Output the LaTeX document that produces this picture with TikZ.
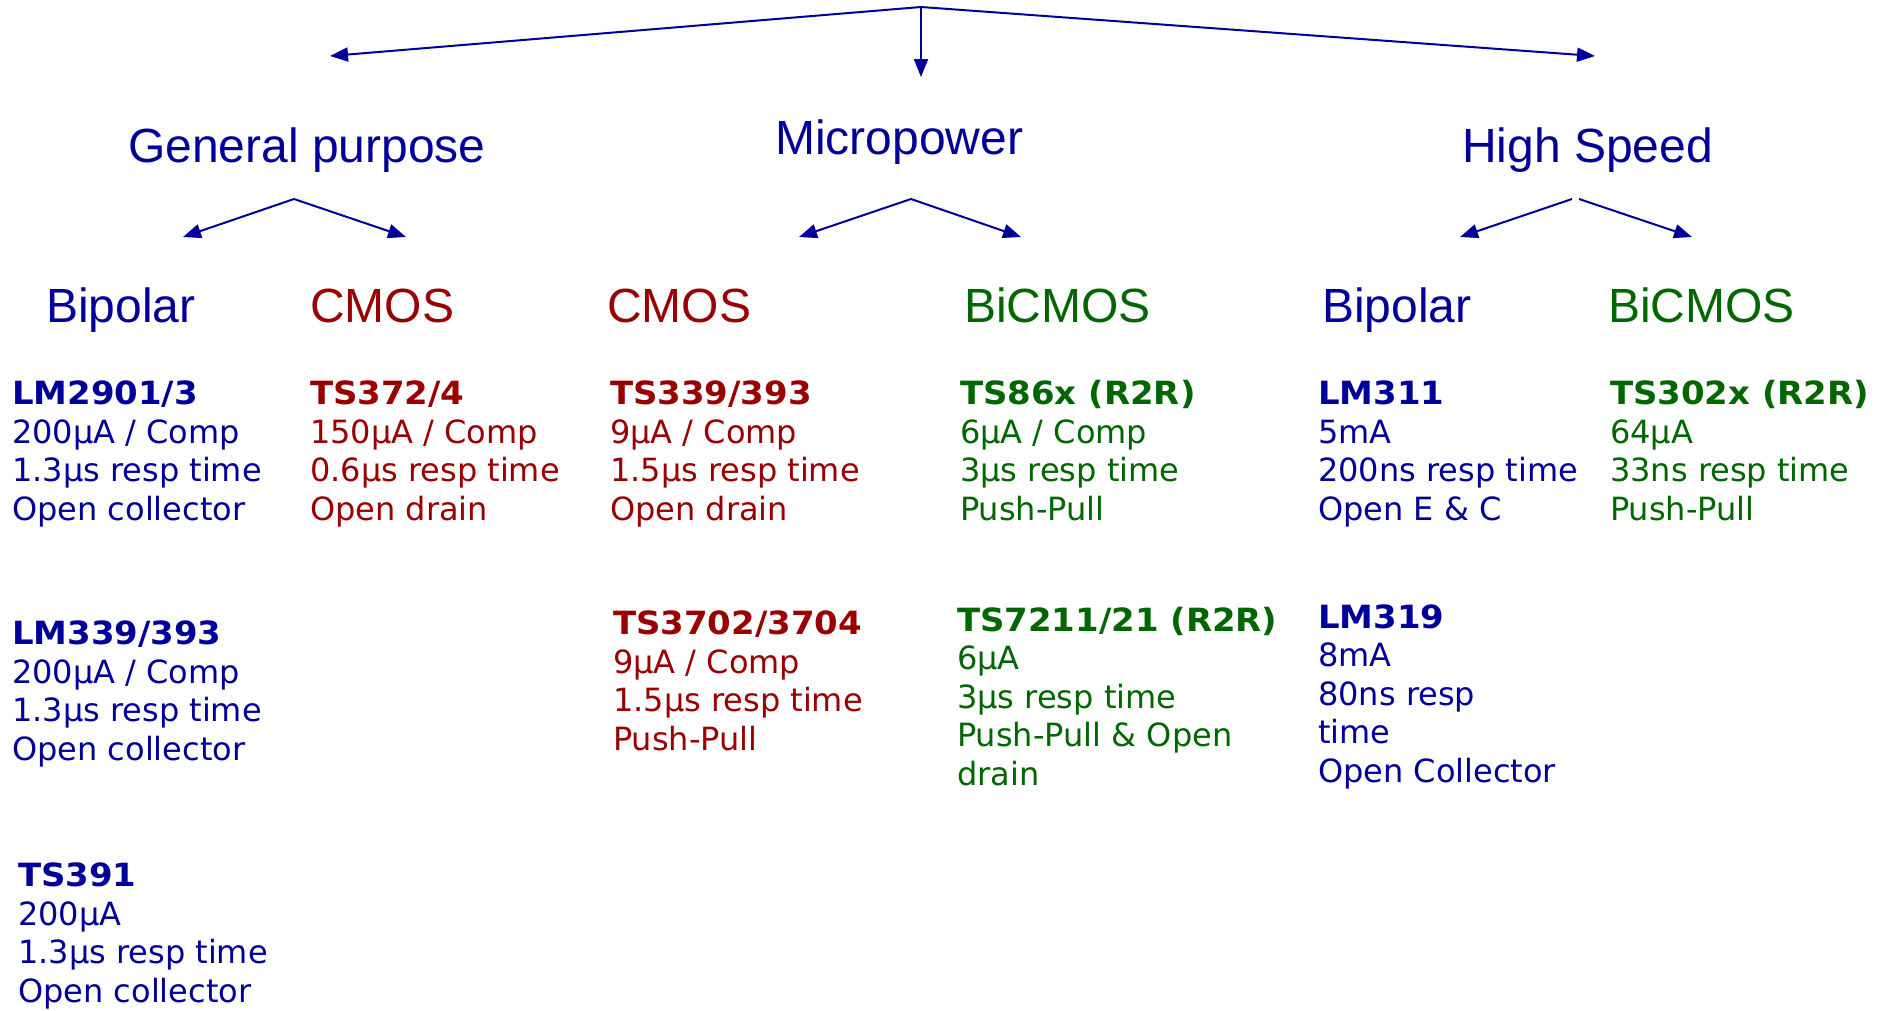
\documentclass[tikz,border=0pt]{standalone}
\usepackage{fontspec}
\usepackage{xcolor}
\setmainfont[BoldFeatures={FakeStretch=1.06}]{DejaVu Sans}
\newfontfamily\headfont{Liberation Sans}
\usetikzlibrary{arrows.meta}
\definecolor{stblue}{HTML}{000099}
\definecolor{stred}{HTML}{990000}
\definecolor{stgreen}{HTML}{006600}

\tikzset{
    head/.style={anchor=base west, inner sep=0pt,
        font=\headfont\fontsize{48}{57.6}\selectfont},
    % multi-line node: base anchor sits on the last line
    part/.style={anchor=base west, inner sep=0pt, align=left,
        font=\fontsize{32}{38.4}\selectfont},
    branch/.style={stblue, line width=2pt,
        -{Triangle[length=18pt,width=14pt]}}
}

\begin{document}
\begin{tikzpicture}[x=1pt, y=-1pt]
        \useasboundingbox (0,0) rectangle (1881,1010);

        % top level
        \coordinate (top) at (921,7);
        \coordinate (gp) at (330,56);
        \coordinate (mp) at (921,77);
        \coordinate (hs) at (1595,56);
        \foreach \c in {gp, mp, hs}
        \draw[branch] (top) -- (\c);

        \node[head, stblue] (general) at (128,162) {General purpose};
        \node[head, stblue] (micro) at (775,154) {Micropower};
        \node[head, stblue] (speed) at (1462,162) {High Speed};

        % second level
        \coordinate (gp top) at (294,199);
        \coordinate (mp top) at (911,199);
        \coordinate (hs top l) at (1572,199);
        \coordinate (hs top r) at (1579,199);
        \coordinate (gp bip) at (183,237);
        \coordinate (gp cmos) at (406,237);
        \coordinate (mp cmos) at (799,237);
        \coordinate (mp bic) at (1021,237);
        \coordinate (hs bip) at (1460,237);
        \coordinate (hs bic) at (1692,237);

        \draw[branch] (gp top) -- (gp bip);
        \draw[branch] (gp top) -- (gp cmos);
        \draw[branch] (mp top) -- (mp cmos);
        \draw[branch] (mp top) -- (mp bic);
        \draw[branch] (hs top l) -- (hs bip);
        \draw[branch] (hs top r) -- (hs bic);

        \node[head, stblue] (bip1) at (46,322) {Bipolar};
        \node[head, stred] (cmos1) at (310,322) {CMOS};
        \node[head, stred] (cmos2) at (607,322) {CMOS};
        \node[head, stgreen] (bic1) at (964,322) {BiCMOS};
        \node[head, stblue] (bip2) at (1322,322) {Bipolar};
        \node[head, stgreen] (bic2) at (1608,322) {BiCMOS};

        % parts
        \node[part, stblue] (lm2901) at (12,520)
            {\textbf{LM2901/3}\\200µA / Comp\\1.3µs resp time\\Open collector};
        \node[part, stred] (ts372) at (310,520)
            {\textbf{TS372/4}\\150µA / Comp\\0.6µs resp time\\Open drain};
        \node[part, stred] (ts339) at (610,520)
            {\textbf{TS339/393}\\9µA / Comp\\1.5µs resp time\\Open drain};
        \node[part, stgreen] (ts86x) at (960,520)
            {\textbf{TS86x (R2R)}\\6µA / Comp\\3µs resp time\\Push-Pull};
        \node[part, stblue] (lm311) at (1318,520)
            {\textbf{LM311}\\5mA\\200ns resp time\\Open E \& C};
        \node[part, stgreen] (ts302x) at (1610,520)
            {\textbf{TS302x (R2R)}\\64µA\\33ns resp time\\Push-Pull};

        \node[part, stblue] (lm339) at (12,760)
            {\textbf{LM339/393}\\200µA / Comp\\1.3µs resp time\\Open collector};
        \node[part, stred] (ts3702) at (613,750)
            {\textbf{TS3702/3704}\\9µA / Comp\\1.5µs resp time\\Push-Pull};
        \node[part, stgreen] (ts7211) at (957,785)
            {\textbf{TS7211/21 (R2R)}\\6µA\\3µs resp time\\Push-Pull \& Open\\drain};
        \node[part, stblue] (lm319) at (1318,782)
            {\textbf{LM319}\\8mA\\80ns resp\\time\\Open Collector};
        \node[part, stblue] (ts391) at (18,1002)
            {\textbf{TS391}\\200µA\\1.3µs resp time\\Open collector};

    \end{tikzpicture}
\end{document}
